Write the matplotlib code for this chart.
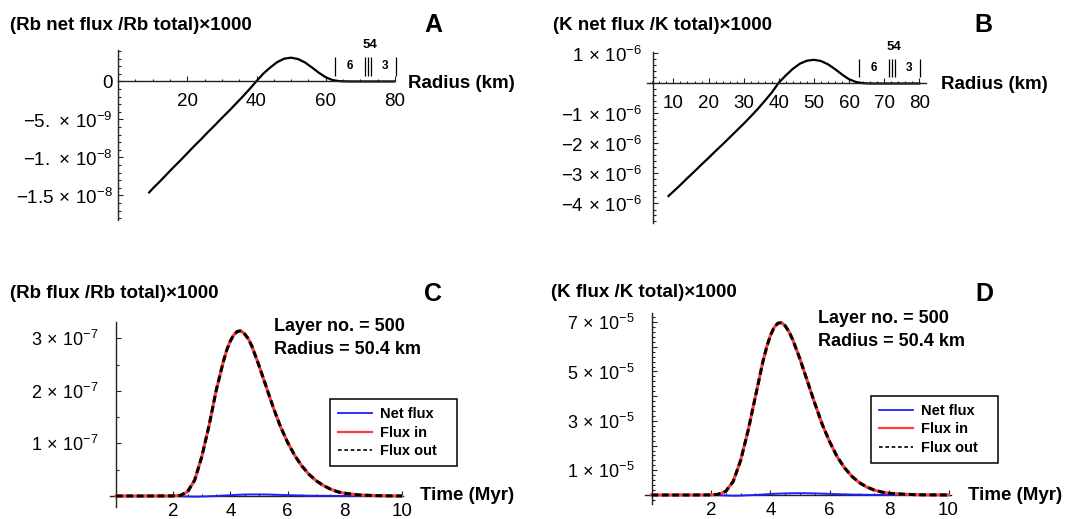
import matplotlib
matplotlib.use("Agg")
import matplotlib.pyplot as plt
from matplotlib.lines import Line2D
from matplotlib.ticker import FixedLocator, FixedFormatter, MultipleLocator

plt.rcParams['font.family'] = ['Liberation Sans', 'DejaVu Sans']
plt.rcParams['mathtext.fontset'] = 'custom'
plt.rcParams['mathtext.rm'] = 'Liberation Sans'
plt.rcParams['mathtext.it'] = 'Liberation Sans:italic'
plt.rcParams['mathtext.bf'] = 'Liberation Sans:bold'

W, H = 1072, 519

# ---- panel A / B : net flux against radius ----
radius_a = [9, 10, 12, 14, 16, 18, 20, 22, 24, 26, 28, 30, 32, 34, 36, 38, 40, 42, 44, 46,
            48, 50, 52, 54, 56, 58, 60, 62, 64, 66, 68, 70, 75, 80]
rb_net = [-14.6, -14.1, -13.2, -12.25, -11.3, -10.4, -9.45, -8.5, -7.6, -6.65, -5.75, -4.8,
          -3.9, -2.95, -2.0, -1.0, 0.05, 1.05, 1.85, 2.55, 3.0, 3.13, 2.95, 2.5, 1.85, 1.15,
          0.55, 0.18, 0.04, 0.005, 0.0, 0.0, 0.0, 0.0]  # x 1e-9

radius_b = [8.6, 10, 12, 14, 16, 18, 20, 22, 24, 26, 28, 30, 32, 34, 36, 38, 40, 42, 44, 46,
            48, 50, 52, 54, 56, 58, 60, 62, 64, 66, 68, 70, 75, 80]
k_net = [-3.75, -3.6, -3.38, -3.15, -2.93, -2.7, -2.48, -2.25, -2.03, -1.8, -1.57, -1.34,
         -1.1, -0.85, -0.58, -0.3, 0.03, 0.27, 0.49, 0.66, 0.76, 0.79, 0.75, 0.64, 0.48, 0.3,
         0.14, 0.05, 0.01, 0.0, 0.0, 0.0, 0.0, 0.0]  # x 1e-6

layer_edges = [62.8, 71.4, 72.3, 73.2, 80.2]
layer_names = ['6', '3']
layer_name_r = [67.0, 77.0]
layer_top_name = '54'
layer_top_r = 72.8

a_yticks = [0, -5, -10, -15]
a_ylabels = ['0', r'$-5.\,\times\,10^{-9}$', r'$-1.\,\times\,10^{-8}$',
             r'$-1.5\,\times\,10^{-8}$']
b_yticks = [1, -1, -2, -3, -4]
b_ylabels = [r'$1\,\times\,10^{-6}$', r'$-1\,\times\,10^{-6}$', r'$-2\,\times\,10^{-6}$',
             r'$-3\,\times\,10^{-6}$', r'$-4\,\times\,10^{-6}$']

# ---- panel C / D : fluxes through layer 500 against time ----
time_myr = [0, 1, 2, 2.25, 2.5, 2.75, 3, 3.25, 3.5, 3.75, 3.875, 4, 4.125, 4.25, 4.375, 4.5,
            4.625, 4.75, 5, 5.25, 5.5, 5.75, 6, 6.25, 6.5, 6.75, 7, 7.25, 7.5, 7.75, 8, 8.5,
            9, 9.5, 10]
rb_flux_in = [0, 0, 0.002, 0.01, 0.08, 0.3, 0.75, 1.33, 2.0, 2.55, 2.78, 2.95, 3.07, 3.13,
              3.14, 3.08, 2.99, 2.85, 2.48, 2.08, 1.68, 1.32, 1.02, 0.77, 0.57, 0.41, 0.29,
              0.2, 0.13, 0.08, 0.05, 0.02, 0.008, 0.003, 0.001]  # x 1e-7
rb_flux_out = rb_flux_in  # indistinguishable from flux in at this scale
rb_net_t = [0, 0, 0, -0.005, -0.01, -0.012, -0.01, -0.005, 0.0, 0.008, 0.011, 0.015, 0.018,
            0.022, 0.025, 0.027, 0.029, 0.03, 0.03, 0.028, 0.025, 0.02, 0.016, 0.012, 0.009,
            0.006, 0.004, 0.003, 0.002, 0.001, 0.001, 0, 0, 0, 0]
k_flux_in = [0, 0, 0.003, 0.03, 0.15, 0.55, 1.4, 2.6, 4.0, 5.4, 5.98, 6.45, 6.78, 6.95, 6.98,
             6.85, 6.62, 6.3, 5.5, 4.6, 3.7, 2.85, 2.15, 1.55, 1.1, 0.75, 0.5, 0.32, 0.2,
             0.12, 0.07, 0.03, 0.01, 0.005, 0.002]  # x 1e-5
k_flux_out = k_flux_in
k_net_t = [0, 0, 0, -0.01, -0.02, -0.03, -0.025, -0.01, 0.0, 0.02, 0.03, 0.04, 0.048, 0.055,
           0.06, 0.065, 0.068, 0.07, 0.075, 0.07, 0.065, 0.055, 0.045, 0.035, 0.025, 0.018,
           0.012, 0.008, 0.005, 0.003, 0.002, 0.001, 0, 0, 0]

c_yticks = [1, 2, 3]
c_ylabels = [r'$1\,\times\,10^{-7}$', r'$2\,\times\,10^{-7}$', r'$3\,\times\,10^{-7}$']
d_yticks = [1, 2, 3, 4, 5, 6, 7]
d_ylabels = [r'$1\,\times\,10^{-5}$', '', r'$3\,\times\,10^{-5}$', '',
             r'$5\,\times\,10^{-5}$', '', r'$7\,\times\,10^{-5}$']
time_ticks = [2, 4, 6, 8, 10]

fig = plt.figure(figsize=(W / 100, H / 100), dpi=100)


def px_axes(left, right, top, bottom):
    return fig.add_axes([left / W, 1 - bottom / H, (right - left) / W, (bottom - top) / H])


def px_text(x, y, s, **kw):
    fig.text(x / W, 1 - y / H, s, **kw)


def style_axes(ax, y_spine_x, ypad, xpad, ysize=13):
    ax.patch.set_alpha(0)
    for side in ('top', 'right'):
        ax.spines[side].set_visible(False)
    ax.spines['left'].set_position(('data', y_spine_x))
    ax.spines['bottom'].set_position(('data', 0))
    for side in ('left', 'bottom'):
        ax.spines[side].set_linewidth(1.0)
        ax.spines[side].set_color('#222222')
    ax.tick_params(which='both', direction='in', color='#222222', width=0.8)
    ax.tick_params(which='major', length=3.5)
    ax.tick_params(which='minor', length=1.8)
    ax.tick_params(axis='y', pad=ypad, labelsize=ysize)
    ax.tick_params(axis='x', pad=xpad, labelsize=13.5)


def layer_marks(ax):
    tr = ax.get_xaxis_transform()
    ax.vlines(layer_edges, 0.85, 0.96, transform=tr, color='black', lw=0.9, clip_on=False)
    for name, r in zip(layer_names, layer_name_r):
        ax.text(r, 0.905, name, transform=tr, ha='center', va='center',
                fontsize=8.5, fontweight='bold')
    ax.text(layer_top_r, 1.03, layer_top_name, transform=tr, ha='center', va='center',
            fontsize=9.5, fontweight='bold', clip_on=False)


# ---- A ----
axA = px_axes(118, 395, 50.3, 219.8)
axA.plot(radius_a, rb_net, color='black', lw=1.6)
axA.set_xlim(0, 80)
axA.set_ylim(-18.2, 4.1)
style_axes(axA, 0, 4, 8, ysize=13.5)
axA.xaxis.set_major_locator(FixedLocator([20, 40, 60, 80]))
axA.xaxis.set_minor_locator(MultipleLocator(5))
axA.yaxis.set_major_locator(FixedLocator(a_yticks))
axA.yaxis.set_major_formatter(FixedFormatter(a_ylabels))
axA.yaxis.set_minor_locator(MultipleLocator(1))
layer_marks(axA)

# ---- B ----
axB = px_axes(647.3, 926, 51.7, 223.3)
axB.plot(radius_b, k_net, color='black', lw=1.6)
axB.set_xlim(2.56, 81.9)
axB.set_ylim(-4.66, 1.06)
style_axes(axB, 4.27, 8, 8, ysize=13.5)
axB.xaxis.set_major_locator(FixedLocator([10, 20, 30, 40, 50, 60, 70, 80]))
axB.xaxis.set_minor_locator(MultipleLocator(2))
axB.yaxis.set_major_locator(FixedLocator(b_yticks))
axB.yaxis.set_major_formatter(FixedFormatter(b_ylabels))
axB.yaxis.set_minor_locator(MultipleLocator(0.2))
layer_marks(axB)


def flux_panel(ax, net, fin, fout):
    ax.plot(time_myr, net, color='#2020ff', lw=1.4, zorder=3)
    ax.plot(time_myr, fin, color='#ff3c3c', lw=2.2, zorder=4)
    ax.plot(time_myr, fout, color='black', lw=2.2, dashes=(2.2, 1.2), zorder=5)
    handles = [Line2D([], [], color='#2020ff', lw=1.3),
               Line2D([], [], color='#ff3c3c', lw=1.6),
               Line2D([], [], color='black', lw=1.2, dashes=(2.2, 1.6))]
    return handles


legend_labels = ['Net flux', 'Flux in', 'Flux out']

# ---- C ----
axC = px_axes(110.3, 403.4, 321.9, 506.5)
hC = flux_panel(axC, rb_net_t, rb_flux_in, rb_flux_out)
axC.set_xlim(-0.2, 10.05)
axC.set_ylim(-0.2, 3.31)
style_axes(axC, 0, 13, 5)
axC.xaxis.set_major_locator(FixedLocator(time_ticks))
axC.xaxis.set_minor_locator(MultipleLocator(0.5))
axC.yaxis.set_major_locator(FixedLocator(c_yticks))
axC.yaxis.set_major_formatter(FixedFormatter(c_ylabels))
axC.yaxis.set_minor_locator(MultipleLocator(0.5))

# ---- D ----
axD = px_axes(645, 950.9, 313.2, 503.9)
hD = flux_panel(axD, k_net_t, k_flux_in, k_flux_out)
axD.set_xlim(-0.22, 10.08)
axD.set_ylim(-0.36, 7.36)
style_axes(axD, 0, 12, 5)
axD.xaxis.set_major_locator(FixedLocator(time_ticks))
axD.xaxis.set_minor_locator(MultipleLocator(0.5))
axD.yaxis.set_major_locator(FixedLocator(d_yticks))
axD.yaxis.set_major_formatter(FixedFormatter(d_ylabels))
axD.yaxis.set_minor_locator(MultipleLocator(0.2))

for handles, box in ((hC, (330, 457, 399.3, 466.7)), (hD, (871, 998, 396, 464))):
    l, r, t, b = box
    leg = fig.legend(handles, legend_labels, loc='upper left',
                     bbox_to_anchor=(l / W, 1 - b / H, (r - l) / W, (b - t) / H),
                     mode='expand', borderaxespad=0, fancybox=False, framealpha=1,
                     edgecolor='black', prop={'weight': 'bold', 'size': 10.5},
                     handlelength=2.3, handletextpad=0.6, labelspacing=0.3,
                     borderpad=0.55)
    leg.get_frame().set_linewidth(1.1)

# ---- titles, panel letters, axis names ----
bold = dict(fontweight='bold', va='center')
px_text(10, 25, '(Rb net flux /Rb total)×1000', fontsize=13.5, ha='left', **bold)
px_text(553, 25, '(K net flux /K total)×1000', fontsize=13.5, ha='left', **bold)
px_text(10, 293.3, '(Rb flux /Rb total)×1000', fontsize=13.5, ha='left', **bold)
px_text(551, 292.7, '(K flux /K total)×1000', fontsize=13.5, ha='left', **bold)
for x, y, s in ((433, 25, 'A'), (983, 25, 'B'), (433, 294, 'C'), (984, 294, 'D')):
    px_text(x, y, s, fontsize=18, ha='center', **bold)
px_text(408, 83.5, 'Radius (km)', fontsize=13.5, ha='left', **bold)
px_text(941, 84.5, 'Radius (km)', fontsize=13.5, ha='left', **bold)
px_text(420, 496, 'Time (Myr)', fontsize=13.5, ha='left', **bold)
px_text(968, 495, 'Time (Myr)', fontsize=13.5, ha='left', **bold)
px_text(273.5, 326.7, 'Layer no. = 500', fontsize=13, ha='left', **bold)
px_text(273.5, 350, 'Radius = 50.4 km', fontsize=13, ha='left', **bold)
px_text(818, 318.3, 'Layer no. = 500', fontsize=13, ha='left', **bold)
px_text(818, 341.7, 'Radius = 50.4 km', fontsize=13, ha='left', **bold)

fig.savefig('out.png', dpi=100)
